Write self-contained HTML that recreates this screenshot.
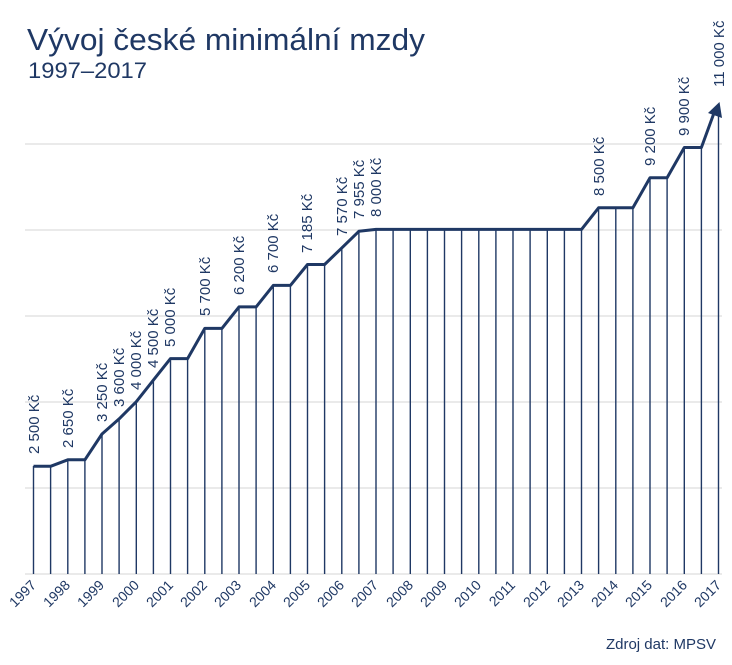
<!DOCTYPE html>
<html><head><meta charset="utf-8"><style>
html,body{margin:0;padding:0;background:#fff;}
svg{display:block;font-family:"Liberation Sans",sans-serif;}
</style></head><body>
<svg width="732" height="665" viewBox="0 0 732 665" xmlns="http://www.w3.org/2000/svg">
<text x="27" y="50" font-size="31" fill="#1f3864" textLength="398" lengthAdjust="spacingAndGlyphs">Vývoj české minimální mzdy</text>
<text x="28" y="78" font-size="22" fill="#1f3864" textLength="119" lengthAdjust="spacingAndGlyphs">1997–2017</text>
<g stroke="#d4d4d4" stroke-width="1">
<line x1="25" x2="722" y1="144" y2="144"/><line x1="25" x2="722" y1="230" y2="230"/>
<line x1="25" x2="722" y1="316" y2="316"/><line x1="25" x2="722" y1="402" y2="402"/>
<line x1="25" x2="722" y1="488" y2="488"/><line x1="25" x2="722" y1="574" y2="574"/>
</g>
<g stroke="#1f3864" stroke-width="1.4">
<line x1="33.5" x2="33.5" y1="466" y2="574"/><line x1="50.6" x2="50.6" y1="466" y2="574"/>
<line x1="67.8" x2="67.8" y1="460" y2="574"/><line x1="84.9" x2="84.9" y1="460" y2="574"/>
<line x1="102" x2="102" y1="434" y2="574"/><line x1="119.1" x2="119.1" y1="419" y2="574"/>
<line x1="136.3" x2="136.3" y1="402" y2="574"/><line x1="153.4" x2="153.4" y1="380" y2="574"/>
<line x1="170.5" x2="170.5" y1="359" y2="574"/><line x1="187.6" x2="187.6" y1="359" y2="574"/>
<line x1="204.8" x2="204.8" y1="328" y2="574"/><line x1="221.9" x2="221.9" y1="328" y2="574"/>
<line x1="239" x2="239" y1="307" y2="574"/><line x1="256.1" x2="256.1" y1="307" y2="574"/>
<line x1="273.3" x2="273.3" y1="285" y2="574"/><line x1="290.4" x2="290.4" y1="285" y2="574"/>
<line x1="307.5" x2="307.5" y1="264" y2="574"/><line x1="324.6" x2="324.6" y1="264" y2="574"/>
<line x1="341.8" x2="341.8" y1="248" y2="574"/><line x1="358.9" x2="358.9" y1="231" y2="574"/>
<line x1="376" x2="376" y1="229" y2="574"/><line x1="393.1" x2="393.1" y1="229" y2="574"/>
<line x1="410.3" x2="410.3" y1="229" y2="574"/><line x1="427.4" x2="427.4" y1="229" y2="574"/>
<line x1="444.5" x2="444.5" y1="229" y2="574"/><line x1="461.6" x2="461.6" y1="229" y2="574"/>
<line x1="478.8" x2="478.8" y1="229" y2="574"/><line x1="495.9" x2="495.9" y1="229" y2="574"/>
<line x1="513" x2="513" y1="229" y2="574"/><line x1="530.1" x2="530.1" y1="229" y2="574"/>
<line x1="547.3" x2="547.3" y1="229" y2="574"/><line x1="564.4" x2="564.4" y1="229" y2="574"/>
<line x1="581.5" x2="581.5" y1="229" y2="574"/><line x1="598.6" x2="598.6" y1="208" y2="574"/>
<line x1="615.8" x2="615.8" y1="208" y2="574"/><line x1="632.9" x2="632.9" y1="208" y2="574"/>
<line x1="650" x2="650" y1="178" y2="574"/><line x1="667.1" x2="667.1" y1="178" y2="574"/>
<line x1="684.3" x2="684.3" y1="147" y2="574"/><line x1="701.4" x2="701.4" y1="147" y2="574"/>
<line x1="718.5" x2="718.5" y1="108" y2="574"/>
</g>
<polyline fill="none" stroke="#1f3864" stroke-width="3" stroke-linejoin="round"
points="33.5,466.3 50.6,466.3 67.8,459.8 84.9,459.8 102,434 119.1,418.9 136.3,401.7 153.4,380.1 170.5,358.6 187.6,358.6 204.8,328.4 221.9,328.4 239,306.9 256.1,306.9 273.3,285.4 290.4,285.4 307.5,264.5 324.6,264.5 341.8,247.9 358.9,231.3 376,229.4 581.5,229.4 598.6,207.8 632.9,207.8 650,177.7 667.1,177.7 684.3,147.5 701.4,147.5 714,113"/>
<polygon points="719.5,102 722,118 708,113" fill="#1f3864"/>
<g font-size="15" fill="#1f3864">
<text transform="translate(39,454) rotate(-90)">2 500 Kč</text>
<text transform="translate(73,448) rotate(-90)">2 650 Kč</text>
<text transform="translate(107,422) rotate(-90)">3 250 Kč</text>
<text transform="translate(124,407) rotate(-90)">3 600 Kč</text>
<text transform="translate(141,390) rotate(-90)">4 000 Kč</text>
<text transform="translate(158,368) rotate(-90)">4 500 Kč</text>
<text transform="translate(175,347) rotate(-90)">5 000 Kč</text>
<text transform="translate(210,316) rotate(-90)">5 700 Kč</text>
<text transform="translate(244,295) rotate(-90)">6 200 Kč</text>
<text transform="translate(278,273) rotate(-90)">6 700 Kč</text>
<text transform="translate(312,253) rotate(-90)">7 185 Kč</text>
<text transform="translate(347,236) rotate(-90)">7 570 Kč</text>
<text transform="translate(364,219) rotate(-90)">7 955 Kč</text>
<text transform="translate(381,217) rotate(-90)">8 000 Kč</text>
<text transform="translate(604,196) rotate(-90)">8 500 Kč</text>
<text transform="translate(655,166) rotate(-90)">9 200 Kč</text>
<text transform="translate(689,136) rotate(-90)">9 900 Kč</text>
<text transform="translate(724,87) rotate(-90)">11 000 Kč</text>
</g>
<g font-size="14" fill="#1f3864" text-anchor="end">
<text transform="translate(37,586) rotate(-45)">1997</text>
<text transform="translate(71,586) rotate(-45)">1998</text>
<text transform="translate(105,586) rotate(-45)">1999</text>
<text transform="translate(140,586) rotate(-45)">2000</text>
<text transform="translate(174,586) rotate(-45)">2001</text>
<text transform="translate(208,586) rotate(-45)">2002</text>
<text transform="translate(242,586) rotate(-45)">2003</text>
<text transform="translate(277,586) rotate(-45)">2004</text>
<text transform="translate(311,586) rotate(-45)">2005</text>
<text transform="translate(345,586) rotate(-45)">2006</text>
<text transform="translate(379,586) rotate(-45)">2007</text>
<text transform="translate(414,586) rotate(-45)">2008</text>
<text transform="translate(448,586) rotate(-45)">2009</text>
<text transform="translate(482,586) rotate(-45)">2010</text>
<text transform="translate(516,586) rotate(-45)">2011</text>
<text transform="translate(551,586) rotate(-45)">2012</text>
<text transform="translate(585,586) rotate(-45)">2013</text>
<text transform="translate(619,586) rotate(-45)">2014</text>
<text transform="translate(653,586) rotate(-45)">2015</text>
<text transform="translate(688,586) rotate(-45)">2016</text>
<text transform="translate(722,586) rotate(-45)">2017</text>
</g>
<text x="716" y="649" font-size="15" fill="#1f3864" text-anchor="end">Zdroj dat: MPSV</text>
</svg>
</body></html>
